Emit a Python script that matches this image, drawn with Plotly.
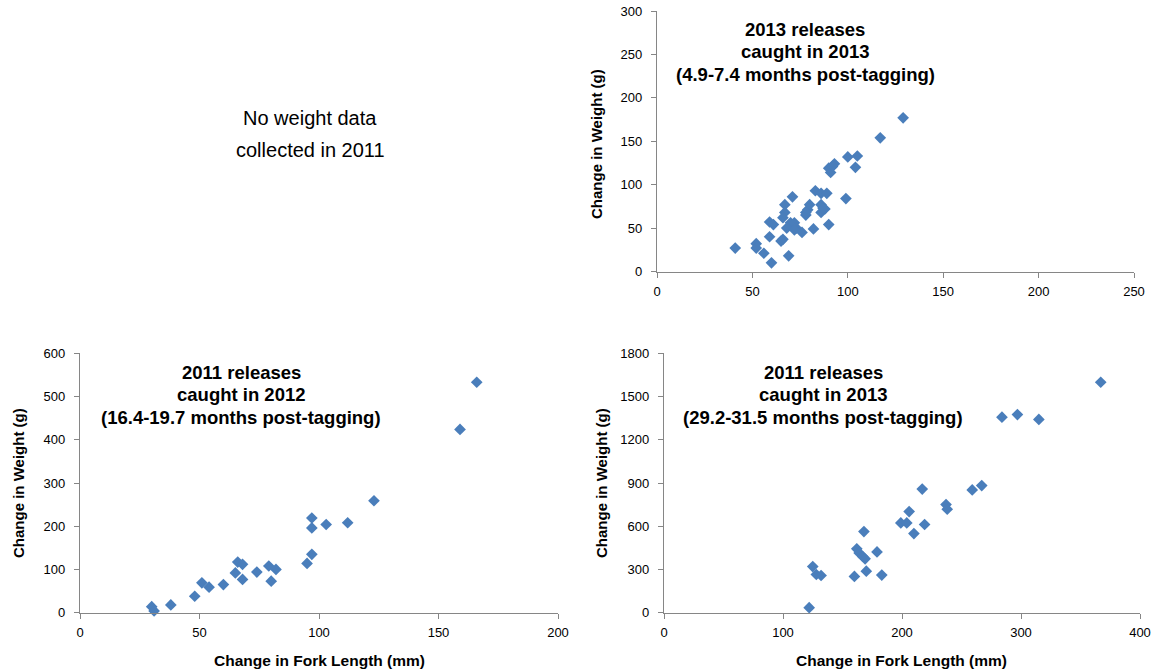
import plotly.graph_objects as go

# 2013 releases caught in 2013
fl_2013_2013 = [41, 52, 52, 56, 60, 59, 59, 61, 65, 66, 69, 67, 71, 67, 66, 70, 72, 68, 73, 76,
                72, 82, 78, 79, 80, 78, 83, 86, 89, 86, 86, 88, 87, 90, 99, 90, 91, 93, 92, 100,
                104, 105, 117, 129]
wt_2013_2013 = [27, 32, 27, 21, 10, 40, 57, 54, 35, 37, 18, 77, 86, 68, 62, 56, 56, 50, 50, 45,
                48, 49, 65, 71, 77, 68, 93, 90, 90, 77, 68, 72, 73, 54, 84, 119, 114, 124, 121, 132,
                120, 133, 154, 177]

# 2011 releases caught in 2012
fl_2011_2012 = [30, 31, 38, 48, 51, 54, 60, 65, 66, 68, 68, 74, 79, 80, 82, 95, 97, 97, 97, 103,
                112, 123, 159, 166]
wt_2011_2012 = [14, 4, 18, 38, 69, 59, 65, 92, 117, 112, 77, 94, 108, 73, 100, 114, 135, 219, 196, 204,
                208, 259, 424, 533]

# 2011 releases caught in 2013
fl_2011_2013 = [122, 125, 128, 132, 160, 162, 164, 167, 169, 168, 170, 179, 183, 199, 204, 206, 210,
                217, 219, 237, 238, 259, 267, 284, 297, 315, 367]
wt_2011_2013 = [35, 320, 265, 258, 252, 443, 415, 390, 374, 563, 288, 422, 261, 623, 623, 702, 549,
                858, 612, 750, 718, 852, 882, 1357, 1375, 1341, 1599]

x_ticks_top = [0, 50, 100, 150, 200, 250]
y_ticks_top = [0, 50, 100, 150, 200, 250, 300]
x_ticks_bl = [0, 50, 100, 150, 200]
y_ticks_bl = [0, 100, 200, 300, 400, 500, 600]
x_ticks_br = [0, 100, 200, 300, 400]
y_ticks_br = [0, 300, 600, 900, 1200, 1500, 1800]

caption_top = ["2013 releases", "caught in 2013", "(4.9-7.4 months post-tagging)"]
caption_bl = ["2011 releases", "caught in 2012", "(16.4-19.7 months post-tagging)"]
caption_br = ["2011 releases", "caught in 2013", "(29.2-31.5 months post-tagging)"]
no_data_note = ["No weight data", "collected in 2011"]

W, H = 1161, 672
MARK = "#4A7EBB"
AXC = "#868686"
TICKFONT = dict(family="Liberation Sans, Arial, sans-serif", size=13, color="#000000")
SANS = "Liberation Sans, Arial, sans-serif"


def px_x(p):
    return p / W


def px_y(p):
    return 1 - p / H


fig = go.Figure()

panels = [
    ("x", "y", fl_2013_2013, wt_2013_2013),
    ("x2", "y2", fl_2011_2012, wt_2011_2012),
    ("x3", "y3", fl_2011_2013, wt_2011_2013),
]
for xa, ya, xs, ys in panels:
    fig.add_trace(go.Scatter(
        x=xs, y=ys, xaxis=xa, yaxis=ya, mode="markers",
        marker=dict(symbol="diamond", size=9, color=MARK, line=dict(width=0)),
        cliponaxis=False, showlegend=False, hoverinfo="x+y",
    ))


def axis(domain, rng, ticks, anchor, standoff):
    return dict(
        domain=domain, range=rng, tickvals=ticks, ticktext=[str(t) for t in ticks],
        showline=True, linecolor=AXC, linewidth=1.3, ticks="outside", ticklen=5,
        tickcolor=AXC, tickwidth=1, showgrid=False, zeroline=False, anchor=anchor,
        tickfont=TICKFONT, fixedrange=True, ticklabelstandoff=standoff, automargin=False,
    )


top_y = [px_y(271.5), px_y(11)]
bot_y = [px_y(612.7), px_y(353.3)]

layout = dict(
    width=W, height=H, margin=dict(l=0, r=0, t=0, b=0, pad=0, autoexpand=False),
    paper_bgcolor="white", plot_bgcolor="white",
    xaxis=axis([px_x(657), px_x(1134)], [0, 250], x_ticks_top, "y", 3),
    yaxis=axis(top_y, [0, 300], y_ticks_top, "x", 6),
    xaxis2=axis([px_x(80), px_x(558)], [0, 200], x_ticks_bl, "y2", 3),
    yaxis2=axis(bot_y, [0, 600], y_ticks_bl, "x2", 6),
    xaxis3=axis([px_x(664), px_x(1140)], [0, 400], x_ticks_br, "y3", 3),
    yaxis3=axis(bot_y, [0, 1800], y_ticks_br, "x3", 6),
)
fig.update_layout(**layout)

annotations = []


def text_lines(lines, cx, first_y, step, size, bold):
    for i, line in enumerate(lines):
        annotations.append(dict(
            text=("<b>%s</b>" % line) if bold else line,
            x=px_x(cx), y=px_y(first_y + i * step), xref="paper", yref="paper",
            xanchor="center", yanchor="middle", showarrow=False, align="center",
            font=dict(family=SANS, size=size, color="#000000"),
        ))


# panel captions
text_lines(caption_top, 805, 30, 22, 18.5, True)
text_lines(caption_bl, 241, 372, 22.5, 18.5, True)
text_lines(caption_br, 823, 372, 22.5, 18.5, True)

# note in the empty panel slot
text_lines(no_data_note, 310, 118, 32, 20, False)

# axis titles
for cx, cy in [(596, 144), (18, 483), (601, 483)]:
    annotations.append(dict(
        text="<b>Change in Weight (g)</b>", x=px_x(cx), y=px_y(cy), xref="paper", yref="paper",
        xanchor="center", yanchor="middle", showarrow=False, textangle=-90,
        font=dict(family=SANS, size=15, color="#000000"),
    ))
for cx, cy in [(319, 660), (902, 660)]:
    annotations.append(dict(
        text="<b>Change in Fork Length (mm)</b>", x=px_x(cx), y=px_y(cy), xref="paper", yref="paper",
        xanchor="center", yanchor="middle", showarrow=False,
        font=dict(family=SANS, size=15.5, color="#000000"),
    ))

fig.update_layout(annotations=annotations)
fig.write_html("out.html")
